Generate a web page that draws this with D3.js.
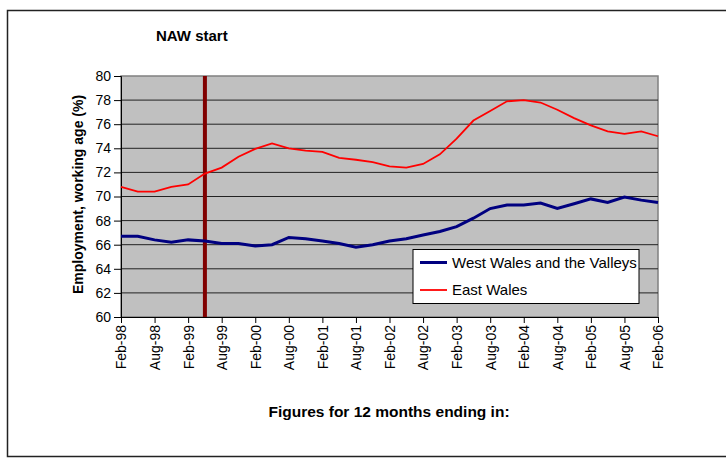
<!DOCTYPE html>
<html>
<head>
<meta charset="utf-8">
<script src="https://cdn.jsdelivr.net/npm/d3@7"></script>
<style>
  body { margin: 0; background: #fff; }
  svg text { font-family: Arial, "Liberation Sans", sans-serif; }
</style>
</head>
<body>
<script>
// quarterly periods, 12 months ending in ...
var months = ["Feb-98","May-98","Aug-98","Nov-98","Feb-99","May-99","Aug-99","Nov-99",
  "Feb-00","May-00","Aug-00","Nov-00","Feb-01","May-01","Aug-01","Nov-01",
  "Feb-02","May-02","Aug-02","Nov-02","Feb-03","May-03","Aug-03","Nov-03",
  "Feb-04","May-04","Aug-04","Nov-04","Feb-05","May-05","Aug-05","Nov-05","Feb-06"];

var westWales = [66.7,66.7,66.4,66.2,66.4,66.3,66.1,66.1,65.9,66.0,66.6,66.5,66.3,66.1,65.8,66.0,
  66.3,66.5,66.8,67.1,67.5,68.2,69.0,69.3,69.3,69.45,69.0,69.4,69.8,69.5,69.95,69.7,69.5];

var eastWales = [70.8,70.4,70.4,70.8,71.0,71.9,72.4,73.3,73.95,74.4,74.0,73.8,73.7,73.2,73.05,72.85,
  72.5,72.4,72.7,73.5,74.8,76.3,77.1,77.9,78.0,77.8,77.2,76.5,75.9,75.4,75.2,75.4,75.0];

var xTickLabels = months.filter(function (d, i) { return i % 2 === 0; });
var yTicks = [60,62,64,66,68,70,72,74,76,78,80];
var nawStart = "May-99";

var svg_Width = 726, svg_Height = 458;
var margin = { top: 76, left: 121, right: 68, bottom: 141 };
var width = svg_Width - margin.left - margin.right;
var height = svg_Height - margin.top - margin.bottom;

var svg = d3.select("body").append("svg")
  .attr("width", svg_Width)
  .attr("height", svg_Height);

// outer chart border
svg.append("rect")
  .attr("x", 7.5).attr("y", 10.5)
  .attr("width", 730).attr("height", 446)
  .attr("fill", "none")
  .attr("stroke", "#222")
  .attr("stroke-width", 1.5);

var g = svg.append("g")
  .attr("transform", `translate(${margin.left}, ${margin.top})`);

var x = d3.scalePoint().domain(months).range([0, width]);
var y = d3.scaleLinear().domain([60, 80]).range([height, 0]);

// plot area
g.append("rect")
  .attr("width", width).attr("height", height)
  .attr("fill", "#c0c0c0")
  .attr("stroke", "#808080")
  .attr("stroke-width", 1.5);

// gridlines
g.selectAll(".grid")
  .data(yTicks.slice(1, -1))
  .enter().append("line")
  .attr("x1", 0).attr("x2", width)
  .attr("y1", d => y(d)).attr("y2", d => y(d))
  .attr("stroke", "#222").attr("stroke-width", 1);

// axes
var leftAxis = d3.axisLeft(y).tickValues(yTicks).tickSize(7).tickPadding(3);
var yAxisG = g.append("g").call(leftAxis);
yAxisG.select(".domain").attr("stroke", "#000");
yAxisG.selectAll("text").attr("font-size", "14px").attr("fill", "#000");

var bottomAxis = d3.axisBottom(x).tickValues(xTickLabels).tickSize(6).tickPadding(4);
var xAxisG = g.append("g")
  .attr("transform", `translate(0, ${height})`)
  .call(bottomAxis);
xAxisG.select(".domain").attr("stroke", "#000");
xAxisG.selectAll("text")
  .attr("font-size", "14px")
  .attr("fill", "#000")
  .attr("transform", "rotate(-90)")
  .attr("text-anchor", "end")
  .attr("x", -8)
  .attr("y", 0)
  .attr("dy", "0.35em");

// NAW start marker
g.append("line")
  .attr("x1", x(nawStart)).attr("x2", x(nawStart))
  .attr("y1", 0).attr("y2", height)
  .attr("stroke", "#800000").attr("stroke-width", 4);

var line = d3.line()
  .x((d, i) => x(months[i]))
  .y(d => y(d));

g.append("path")
  .datum(eastWales)
  .attr("d", line)
  .attr("fill", "none")
  .attr("stroke", "#ff0000")
  .attr("stroke-width", 1.8);

g.append("path")
  .datum(westWales)
  .attr("d", line)
  .attr("fill", "none")
  .attr("stroke", "#000080")
  .attr("stroke-width", 3);

// legend
var legend = svg.append("g").attr("transform", "translate(413, 249.5)");
legend.append("rect")
  .attr("width", 226).attr("height", 54)
  .attr("fill", "#fff").attr("stroke", "#000").attr("stroke-width", 1);
var legendItems = [
  { name: "West Wales and the Valleys", color: "#000080", w: 3 },
  { name: "East Wales", color: "#ff0000", w: 1.8 }
];
legendItems.forEach(function (d, i) {
  var ly = 13 + i * 27.5;
  legend.append("line")
    .attr("x1", 7).attr("x2", 34)
    .attr("y1", ly).attr("y2", ly)
    .attr("stroke", d.color).attr("stroke-width", d.w);
  legend.append("text")
    .attr("x", 39).attr("y", ly)
    .attr("dy", "0.35em")
    .attr("font-size", "15px")
    .text(d.name);
});

// titles
svg.append("text")
  .attr("x", 156).attr("y", 41)
  .attr("font-size", "15px").attr("font-weight", "bold")
  .text("NAW start");

svg.append("text")
  .attr("transform", "rotate(-90)")
  .attr("x", -(margin.top + height / 2 - 2))
  .attr("y", 78)
  .attr("dy", "0.35em")
  .attr("text-anchor", "middle")
  .attr("font-size", "14px").attr("font-weight", "bold")
  .text("Employment, working age (%)");

svg.append("text")
  .attr("x", 389).attr("y", 412)
  .attr("dy", "0.35em")
  .attr("text-anchor", "middle")
  .attr("font-size", "15.5px").attr("font-weight", "bold")
  .text("Figures for 12 months ending in:");
</script>
</body>
</html>
